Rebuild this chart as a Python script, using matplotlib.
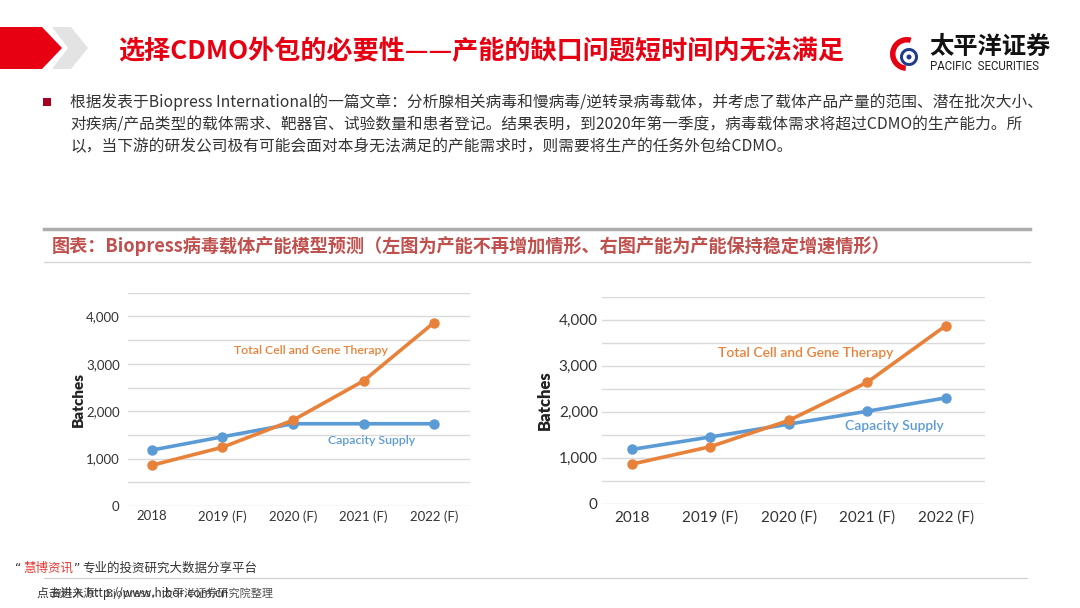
import matplotlib
matplotlib.use("Agg")
import matplotlib.pyplot as plt
from matplotlib.patches import Polygon, Wedge, Circle
from matplotlib.transforms import ScaledTranslation

plt.rcParams['font.family'] = ['Noto Sans CJK SC', 'DejaVu Sans']

# data
years = ["2018", "2019 (F)", "2020 (F)", "2021 (F)", "2022 (F)"]
demand = [860, 1240, 1810, 2640, 3870]
supply_flat = [1180, 1460, 1735, 1735, 1735]
supply_grow = [1180, 1450, 1730, 2010, 2300]
y_ticks = [0, 1000, 2000, 3000, 4000]
y_tick_labels = ["0", "1,000", "2,000", "3,000", "4,000"]

ORANGE = "#E8823A"
BLUE = "#5B9BD5"
W, H = 1080, 608
LATIN = ["Lato", "DejaVu Sans"]

fig = plt.figure(figsize=(W / 100, H / 100), dpi=100)
fig.patch.set_facecolor("white")

# full-figure overlay in pixel coords for the slide decoration
bg = fig.add_axes([0, 0, 1, 1])
bg.set_xlim(0, W)
bg.set_ylim(H, 0)
bg.axis("off")

bg.add_patch(Polygon([(0, 27), (42, 27), (62, 48), (42, 69), (0, 69)],
                     closed=True, color="#E60012", lw=0))
bg.add_patch(Polygon([(52, 27), (71, 27), (88, 48), (71, 69), (52, 69), (68, 48)],
                     closed=True, color="#E3E3E3", lw=0))

bg.text(481, 52, "选择CDMO外包的必要性——产能的缺口问题短时间内无法满足",
        color="#E60012", fontsize=18.8, fontweight="bold", ha="center", va="center")

# logo
bg.add_patch(Wedge((907, 54), 17, 95, 285, width=5.5, color="#E60012", lw=0))
bg.add_patch(Wedge((909, 57), 9, 0, 360, width=3, color="#1F3C88", lw=0))
bg.add_patch(Circle((909, 57), 2.5, color="#1F3C88", lw=0))
bg.text(929, 47, "太平洋证券", fontsize=17.5, fontweight="bold", color="#111111",
        ha="left", va="center")
bg.text(930, 66, "PACIFIC  SECURITIES", fontsize=8.3, color="#222222",
        ha="left", va="center", family=["Roboto", "DejaVu Sans"])

# bullet text
bg.add_patch(Polygon([(43, 98), (51, 98), (51, 106), (43, 106)], closed=True,
                     color="#A50021", lw=0))
body = [
    "根据发表于Biopress International的一篇文章：分析腺相关病毒和慢病毒/逆转录病毒载体，并考虑了载体产品产量的范围、潜在批次大小、",
    "对疾病/产品类型的载体需求、靶器官、试验数量和患者登记。结果表明，到2020年第一季度，病毒载体需求将超过CDMO的生产能力。所",
    "以，当下游的研发公司极有可能会面对本身无法满足的产能需求时，则需要将生产的任务外包给CDMO。",
]
for i, line in enumerate(body):
    bg.text(70, 102 + i * 22.5, line, fontsize=11.3, color="#333333",
            ha="left", va="center")

# chart title bar
bg.plot([44, 1030], [229, 229], color="#ADADAD", lw=2.5)
bg.plot([44, 1030], [262, 262], color="#D6D6D6", lw=1)
bg.text(52, 246, "图表：Biopress病毒载体产能模型预测（左图为产能不再增加情形、右图产能为产能保持稳定增速情形）",
        color="#C0504D", fontsize=13.1, fontweight="bold", ha="left", va="center")

# footer
bg.text(15, 568, "“", color="#333333", fontsize=9, ha="left", va="center",
        family=["DejaVu Sans"])
bg.text(23, 568, "慧博资讯", color="#E53935", fontsize=9, ha="left", va="center")
bg.text(74, 568, "”", color="#333333", fontsize=9, ha="left", va="center",
        family=["DejaVu Sans"])
bg.text(82, 568, "专业的投资研究大数据分享平台", color="#333333", fontsize=9,
        ha="left", va="center")
bg.plot([44, 1027], [578, 578], color="#D0D0D0", lw=0.9)
bg.text(37, 593, "点击进入 http://www.hibor.com.cn", color="#333333", fontsize=8.5,
        ha="left", va="center")
bg.text(50, 593, "资料来源：Biopress，太平洋证券研究院整理", color="#333333",
        fontsize=8, ha="left", va="center", alpha=0.85)


def draw_panel(rect, xlim, supply, fs_tick, fs_label, fs_note, ypad, xpad, xoff,
               note_demand, note_supply, labelpad):
    ax = fig.add_axes(rect)
    x = list(range(len(years)))
    ax.plot(x, supply, color=BLUE, lw=2.6, marker="o", ms=6.5, zorder=3)
    ax.plot(x, demand, color=ORANGE, lw=2.6, marker="o", ms=6.5, zorder=4)
    ax.set_xlim(*xlim)
    ax.set_ylim(0, 4500)
    ax.set_yticks(y_ticks)
    ax.set_yticklabels(y_tick_labels)
    ax.set_yticks([500, 1500, 2500, 3500, 4500], minor=True)
    ax.set_xticks(x)
    ax.set_xticklabels(years)
    for lab in ax.get_xticklabels():
        lab.set_transform(lab.get_transform() + ScaledTranslation(xoff / 72, 0, fig.dpi_scale_trans))
    ax.grid(axis="y", which="both", color="#DADADA", lw=1)
    ax.set_axisbelow(True)
    for s in ax.spines.values():
        s.set_visible(False)
    ax.tick_params(axis="y", which="both", length=0, pad=ypad, labelsize=fs_tick,
                   labelcolor="#333333")
    ax.tick_params(axis="x", length=0, pad=xpad, labelsize=fs_tick,
                   labelcolor="#333333")
    for lab in ax.get_xticklabels() + ax.get_yticklabels():
        lab.set_family(LATIN)
    ax.set_ylabel("Batches", fontsize=fs_label, fontweight="heavy", color="#222222",
                  family=LATIN, labelpad=labelpad)
    ax.text(note_demand[0], note_demand[1], "Total Cell and Gene Therapy",
            color=ORANGE, fontsize=fs_note, ha="center", va="center",
            family=LATIN, fontweight="semibold")
    ax.text(note_supply[0], note_supply[1], "Capacity Supply",
            color=BLUE, fontsize=fs_note, ha="center", va="center",
            family=LATIN, fontweight="semibold")
    return ax


left = draw_panel([128 / W, 1 - 506 / H, 342 / W, 213.3 / H], (-0.34, 4.51),
                  supply_flat, 9.5, 11, 8.8, 6, 3, 6, (2.26, 3280), (3.11, 1390), 1)

right = draw_panel([602 / W, 1 - 503.7 / H, 383 / W, 207 / H], (-0.38, 4.5),
                   supply_grow, 11, 12, 10, 3, 5, 7, (2.22, 3280), (3.34, 1690), 4)

fig.savefig("out.png", dpi=100, facecolor="white")
